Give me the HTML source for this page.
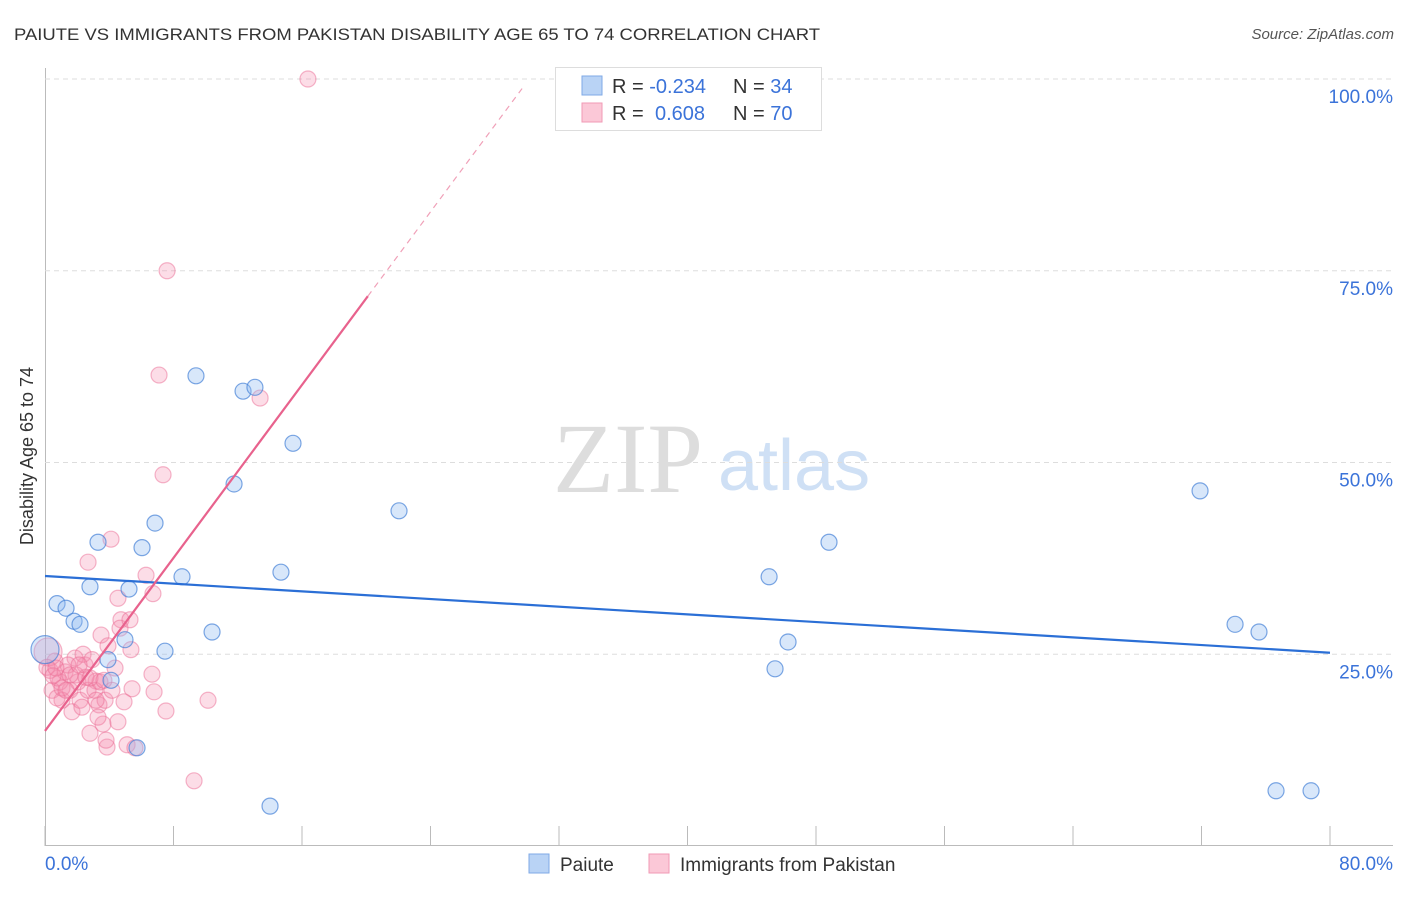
<!DOCTYPE html>
<html><head><meta charset="utf-8"><style>
body{margin:0;background:#fff;font-family:"Liberation Sans",sans-serif}
</style></head><body>
<svg id="c" width="1406" height="892" font-family="Liberation Sans, sans-serif">
<text x="14" y="40" font-size="17" fill="#333" textLength="806" lengthAdjust="spacingAndGlyphs">PAIUTE VS IMMIGRANTS FROM PAKISTAN DISABILITY AGE 65 TO 74 CORRELATION CHART</text>
<text x="1394" y="39" font-size="15" fill="#555" font-style="italic" text-anchor="end">Source: ZipAtlas.com</text>
<text x="0" y="0" font-size="18" fill="#333" transform="translate(33,456) rotate(-90)" text-anchor="middle">Disability Age 65 to 74</text>
<g><text x="553" y="492" font-size="100" fill="#ddd" style="font-family:'Liberation Serif',serif">ZIP</text><text x="718" y="490" font-size="72" fill="#cfe0f5">atlas</text></g>
<g id="grid"></g><g id="pts"></g><g id="lines"></g>
<g>
<rect x="555.5" y="67.5" width="266" height="63" fill="#fff" stroke="#ddd"/>
<rect x="582" y="76" width="20" height="19" fill="#b9d3f5" stroke="#7fa9e6"/>
<rect x="582" y="103" width="20" height="19" fill="#fbc8d7" stroke="#f09ab5"/>
<text x="612" y="93" font-size="20" fill="#333">R = <tspan fill="#3b73d9">-0.234</tspan><tspan x="733">N = </tspan><tspan fill="#3b73d9">34</tspan></text>
<text x="612" y="120" font-size="20" fill="#333">R = <tspan x="655" fill="#3b73d9">0.608</tspan><tspan x="733">N = </tspan><tspan fill="#3b73d9">70</tspan></text>
</g>
<g>
<rect x="529" y="854" width="20" height="19" fill="#b9d3f5" stroke="#7fa9e6"/>
<text x="560" y="871" font-size="19" fill="#333">Paiute</text>
<rect x="649" y="854" width="20" height="19" fill="#fbc8d7" stroke="#f09ab5"/>
<text x="680" y="871" font-size="19" fill="#333">Immigrants from Pakistan</text>
</g>
</svg>
<script>
const blueX=[0,0.75,1.31,1.81,2.18,2.80,3.30,3.92,4.11,4.98,5.23,6.04,6.85,7.47,8.53,9.40,10.4,11.77,12.33,13.07,14.01,14.69,15.44,5.73,22.04,45.08,45.45,46.26,48.81,71.91,74.09,75.58,76.64,78.82];
const blueY=[25.6,31.6,31.0,29.3,28.9,33.8,39.6,24.3,21.6,26.9,33.5,38.9,42.1,25.4,35.1,61.3,27.9,47.2,59.3,59.8,5.2,35.7,52.5,12.8,43.7,35.1,23.1,26.6,39.6,46.3,28.9,27.9,7.2,7.2];
const pinkX=[16.37,7.60,7.10,13.39,7.35,10.15,9.28,4.11,2.68,6.29,6.72,4.54,4.73,3.49,3.92,5.35,4.67,6.66,7.53,6.79,5.42,5.11,4.92,3.86,3.80,2.80,3.61,3.36,3.18,2.49,1.87,1.56,0.93,0.44,0.31,0.62,1.25,2.05,1.68,2.18,1.06,0.81,1.43,2.68,3.11,3.42,2.37,0.19,0.75,4.36,3.74,3.30,4.54,0.12,0.50,1.06,1.93,2.55,2.93,2.30,5.29,3.18,1.56,2.80,4.17,2.12,1.31,3.67,5.60,0.68];
const pinkY=[100,75.0,61.4,58.4,48.4,19.0,8.5,40.0,37.0,35.3,32.9,32.3,29.5,27.5,26.1,25.6,28.4,22.4,17.6,20.1,20.5,13.2,18.8,12.9,13.8,14.7,15.9,18.4,21.5,23.6,24.5,20.3,21.4,20.3,22.9,24.1,22.7,21.4,17.5,19.0,19.0,21.9,23.6,20.3,20.3,21.4,25.0,25.3,19.3,23.2,19.0,16.8,16.2,23.3,22.2,20.6,22.3,22.0,24.3,18.1,29.5,19.0,22.3,21.9,20.3,23.6,20.3,21.6,12.8,23.2];
const blueFit=[35.2,25.2];
const pinkFit=[15.0,2.82];
const yTicks=[25,50,75,100];
const xTickLabels=["0.0%","80.0%"];
const ns="http://www.w3.org/2000/svg";
const X=v=>45+v*1285/80, Y=v=>846-v*7.67;
function mk(t,a,p){const e=document.createElementNS(ns,t);for(const k in a)e.setAttribute(k,a[k]);document.getElementById(p).appendChild(e);return e;}
let e;
e=mk('line',{x1:45.5,y1:68,x2:45.5,y2:846,stroke:'#bbb'},'grid');


e=mk('line',{x1:45,y1:845.5,x2:1393,y2:845.5,stroke:'#bbb'},'grid');


for(let i=0;i<=10;i++){e=mk('line',{x1:X(i*8),y1:826,x2:X(i*8),y2:846,stroke:'#bbb'},'grid');

}
yTicks.forEach(t=>{e=mk('line',{x1:45,y1:Y(t),x2:1393,y2:Y(t),stroke:'#ddd','stroke-dasharray':'5,4'},'grid');


e=mk('text',{x:1393,y:Y(t)+24,'font-size':19,fill:'#3b73d9','text-anchor':'end'},'grid');e.textContent=t.toFixed(1)+'%';

});
e=mk('text',{x:45,y:870,'font-size':19,fill:'#3b73d9'},'grid');e.textContent=xTickLabels[0];


e=mk('text',{x:1393,y:870,'font-size':19,fill:'#3b73d9','text-anchor':'end'},'grid');e.textContent=xTickLabels[1];


pinkX.forEach((x,i)=>{e=mk('circle',{cx:X(x),cy:Y(pinkY[i]),r:i==47?14:8,fill:'rgba(244,143,177,0.3)',stroke:'rgba(236,110,150,0.5)','stroke-width':1.2},'pts');

});
blueX.forEach((x,i)=>{e=mk('circle',{cx:X(x),cy:Y(blueY[i]),r:i==0?14:8,fill:'rgba(144,186,240,0.35)',stroke:'rgba(70,130,215,0.7)','stroke-width':1.2},'pts');

});
e=mk('line',{x1:X(0),y1:Y(blueFit[0]),x2:X(80),y2:Y(blueFit[1]),stroke:'#2b6fd6','stroke-width':2.2},'lines');


e=mk('line',{x1:X(0),y1:Y(pinkFit[0]),x2:X(20.1),y2:Y(pinkFit[0]+pinkFit[1]*20.1),stroke:'#e8628d','stroke-width':2.2},'lines');


e=mk('line',{x1:X(20.1),y1:Y(pinkFit[0]+pinkFit[1]*20.1),x2:X(29.7),y2:Y(pinkFit[0]+pinkFit[1]*29.7),stroke:'#f0a0b8','stroke-width':1.2,'stroke-dasharray':'6,5'},'lines');


</script>
</body></html>
